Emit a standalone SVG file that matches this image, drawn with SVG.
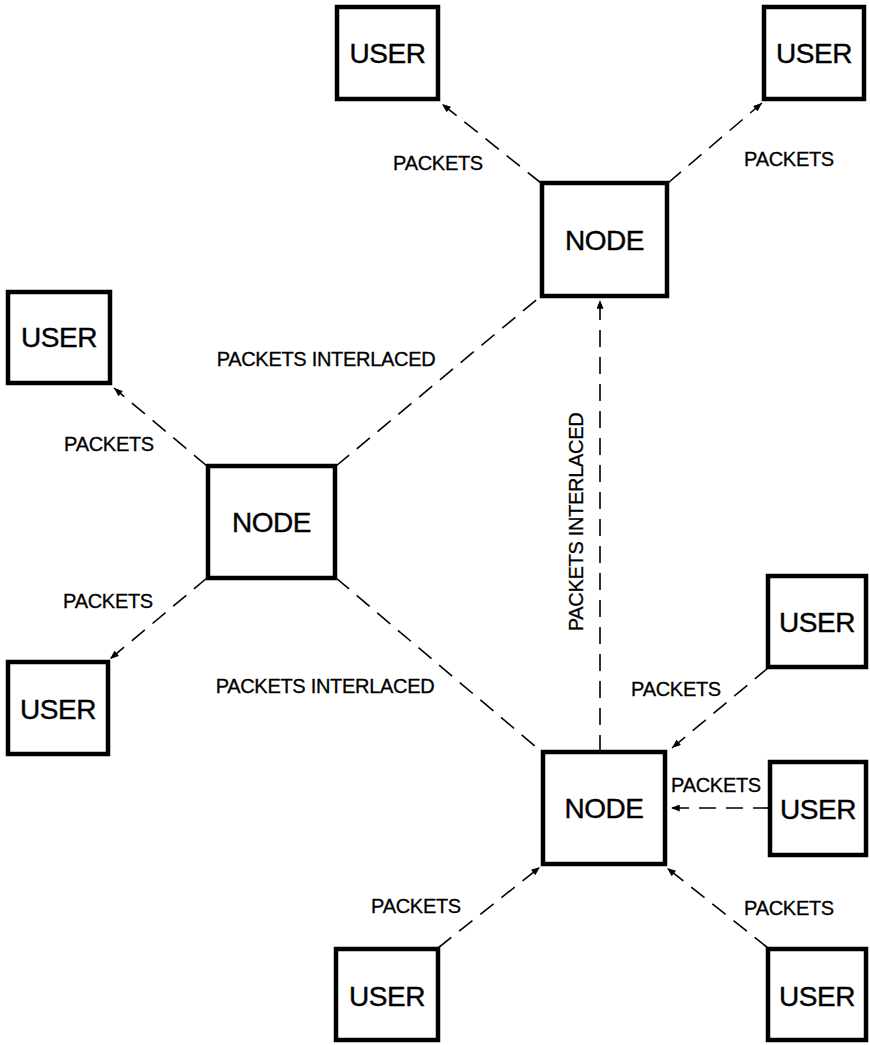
<svg xmlns="http://www.w3.org/2000/svg" width="870" height="1045" viewBox="0 0 870 1045">
  <defs>
    <marker id="arrow" viewBox="0 0 10 8" refX="10" refY="4" markerWidth="10" markerHeight="7" markerUnits="userSpaceOnUse" orient="auto">
      <path d="M0,0 L10,4 L0,8 Z" fill="#000"/>
    </marker>
    <style>
      .box { fill: #fff; stroke: #000; stroke-width: 4.5; }
      .name { font-family: "Liberation Sans", Arial, sans-serif; font-size: 28px; fill: #000; stroke: #000; stroke-width: 0.4; text-anchor: middle; letter-spacing: -0.5px; }
      .lbl { font-family: "Liberation Sans", Arial, sans-serif; font-size: 20px; fill: #000; stroke: #000; stroke-width: 0.3; text-anchor: middle; letter-spacing: -0.3px; }
      .link { fill: none; stroke: #000; stroke-width: 1.6; stroke-dasharray: 17 10; }
      .flow { marker-end: url(#arrow); }
    </style>
  </defs>

  <rect width="870" height="1045" fill="#fff"/>

  <!-- connectors -->
  <g id="connectors">
    <line class="link flow" x1="541" y1="183" x2="442" y2="104"/>
    <line class="link flow" x1="668" y1="183" x2="762" y2="103"/>
    <line class="link flow" x1="207" y1="466" x2="114" y2="388"/>
    <line class="link flow" x1="207" y1="578" x2="110" y2="659"/>
    <line class="link" x1="336" y1="466" x2="541" y2="296"/>
    <line class="link" x1="336" y1="578" x2="542" y2="752"/>
    <line class="link flow" x1="600" y1="752" x2="600" y2="300"/>
    <line class="link flow" x1="768" y1="668" x2="672" y2="748"/>
    <line class="link flow" x1="770" y1="808" x2="671" y2="808"/>
    <line class="link flow" x1="438" y1="948" x2="540" y2="867"/>
    <line class="link flow" x1="768" y1="948" x2="667" y2="868"/>

    <text class="lbl" x="438" y="170">PACKETS</text>
    <text class="lbl" x="789" y="166">PACKETS</text>
    <text class="lbl" x="326" y="366">PACKETS INTERLACED</text>
    <text class="lbl" x="109" y="451">PACKETS</text>
    <text class="lbl" x="108" y="608">PACKETS</text>
    <text class="lbl" x="325" y="693">PACKETS INTERLACED</text>
    <text class="lbl" transform="translate(583,522) rotate(-90)">PACKETS INTERLACED</text>
    <text class="lbl" x="676" y="696">PACKETS</text>
    <text class="lbl" x="716" y="792">PACKETS</text>
    <text class="lbl" x="416" y="913">PACKETS</text>
    <text class="lbl" x="789" y="915">PACKETS</text>
  </g>

  <!-- packet switching nodes -->
  <g id="node-top">
    <rect class="box" x="542" y="183" width="125" height="113"/>
    <text class="name" x="604.5" y="250">NODE</text>
  </g>
  <g id="node-left">
    <rect class="box" x="208" y="466" width="127" height="112"/>
    <text class="name" x="271.5" y="532">NODE</text>
  </g>
  <g id="node-bottom">
    <rect class="box" x="543" y="752" width="122" height="112"/>
    <text class="name" x="604" y="818">NODE</text>
  </g>

  <!-- users -->
  <g id="user-top-left">
    <rect class="box" x="337" y="7" width="101" height="92"/>
    <text class="name" x="387.5" y="63">USER</text>
  </g>
  <g id="user-top-right">
    <rect class="box" x="764" y="7" width="100" height="92"/>
    <text class="name" x="814" y="63">USER</text>
  </g>
  <g id="user-left-upper">
    <rect class="box" x="8" y="292" width="102" height="91"/>
    <text class="name" x="59" y="347">USER</text>
  </g>
  <g id="user-left-lower">
    <rect class="box" x="8" y="662" width="100" height="92"/>
    <text class="name" x="58" y="719">USER</text>
  </g>
  <g id="user-right-upper">
    <rect class="box" x="768" y="576" width="98" height="91"/>
    <text class="name" x="817" y="632">USER</text>
  </g>
  <g id="user-right-middle">
    <rect class="box" x="770" y="762" width="96" height="93"/>
    <text class="name" x="818" y="819">USER</text>
  </g>
  <g id="user-bottom-left">
    <rect class="box" x="336" y="949" width="102" height="91"/>
    <text class="name" x="387" y="1006">USER</text>
  </g>
  <g id="user-bottom-right">
    <rect class="box" x="768" y="949" width="98" height="91"/>
    <text class="name" x="817" y="1006">USER</text>
  </g>
</svg>
